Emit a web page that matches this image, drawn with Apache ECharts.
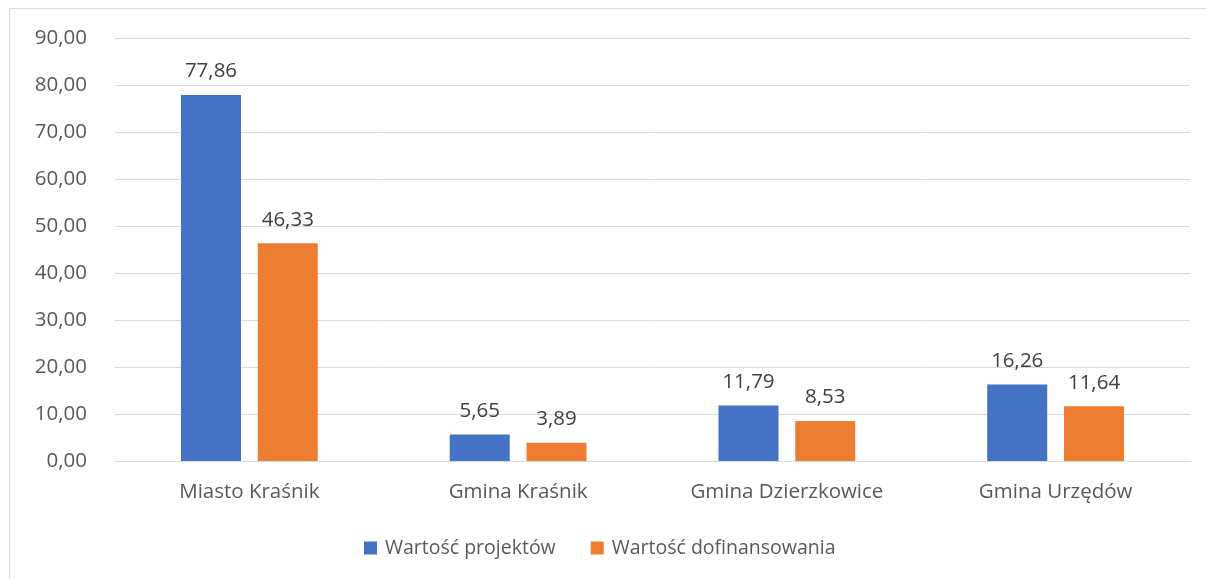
<!DOCTYPE html>
<html>
<head>
<meta charset="utf-8">
<script src="https://cdn.jsdelivr.net/npm/echarts@6/dist/echarts.min.js"></script>
<style>
  html, body { margin: 0; padding: 0; background: #fff; }
  #frame { position: absolute; left: 9px; top: 8px; width: 1210px; height: 590px; border: 1px solid #d9d9d9; box-sizing: border-box; }
  #chart { width: 1206px; height: 579px; position: absolute; left: 0; top: 0; }
</style>
</head>
<body>
<div id="frame"></div>
<div id="chart"></div>
<script>
const categories = ['Miasto Kraśnik', 'Gmina Kraśnik', 'Gmina Dzierzkowice', 'Gmina Urzędów'];
const projectValues = [77.86, 5.65, 11.79, 16.26];
const fundingValues = [46.33, 3.89, 8.53, 11.64];
const seriesNames = ['Wartość projektów', 'Wartość dofinansowania'];

const FONT = 'Open Sans';
const fmt = v => Number(v).toFixed(2).replace('.', ',');

const chart = echarts.init(document.getElementById('chart'), null, { renderer: 'canvas' });
chart.setOption({
  animation: false,
  textStyle: { fontFamily: FONT },
  legend: {
    bottom: 21,
    left: 364,
    padding: 0,
    itemWidth: 13,
    itemHeight: 13,
    itemGap: 35,
    icon: 'rect',
    textStyle: { fontSize: 19.5, color: '#595959', fontFamily: FONT, padding: [0, 0, 0, 3] }
  },
  grid: { left: 115, right: 16, top: 38, bottom: 118 },
  xAxis: {
    type: 'category',
    data: categories,
    axisLine: { lineStyle: { color: '#d9d9d9', width: 1 } },
    axisTick: { show: false },
    axisLabel: { fontSize: 20.5, color: '#595959', margin: 21, fontFamily: FONT }
  },
  yAxis: {
    type: 'value',
    min: 0,
    max: 90,
    interval: 10,
    axisLine: { show: false },
    axisTick: { show: false },
    splitLine: { lineStyle: { color: '#d9d9d9', width: 1 } },
    axisLabel: { fontSize: 20.5, color: '#595959', margin: 28, formatter: fmt, fontFamily: FONT }
  },
  series: [
    {
      name: seriesNames[0],
      type: 'bar',
      data: projectValues,
      barWidth: 60,
      barGap: '28%',
      itemStyle: { color: '#4472C4' },
      label: { show: true, position: 'top', distance: 13, fontSize: 20.5, color: '#404040', formatter: p => fmt(p.value), fontFamily: FONT }
    },
    {
      name: seriesNames[1],
      type: 'bar',
      data: fundingValues,
      barWidth: 60,
      itemStyle: { color: '#ED7D31' },
      label: { show: true, position: 'top', distance: 13, fontSize: 20.5, color: '#404040', formatter: p => fmt(p.value), fontFamily: FONT }
    }
  ]
});
</script>
</body>
</html>
